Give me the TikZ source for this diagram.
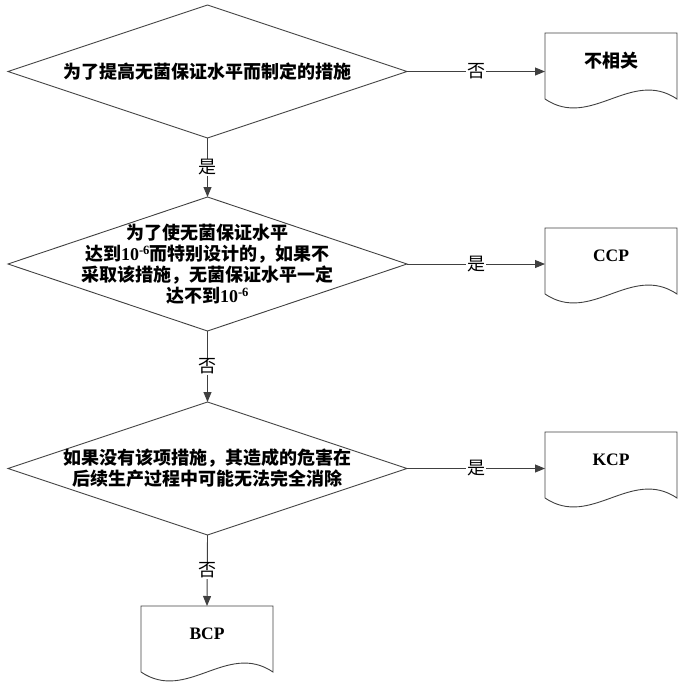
\documentclass[tikz,border=0pt]{standalone}
\usepackage{fontspec}
\setmainfont{Liberation Serif}
\newfontfamily\cjk{Noto Sans CJK SC}
\usetikzlibrary{shapes.geometric,arrows.meta}

\newcommand\tenmsix{{\rmfamily\bfseries 10\textsuperscript{-6}}}
% document symbol: flat top, wavy bottom
\newcommand\docoutline[1]{\draw[line] (#1.south west) -- (#1.north west) -- (#1.north east) -- (#1.south east) .. controls +(-46,-31) and +(46,31) .. (#1.south west);}

\tikzset{
	line/.style = {draw = black!75, line width = 0.9pt},
	decision/.style = {diamond, line, minimum width = 399pt, minimum height = 133pt, inner sep = 0pt, outer sep = 0pt},
	decisiontext/.style = {align = center, font = \cjk\bfseries\fontsize{18}{21}\selectfont, inner sep = 0pt},
	docbox/.style = {rectangle, minimum width = 132pt, minimum height = 66pt, inner sep = 0pt, outer sep = 0pt},
	doctext/.style = {font = \bfseries\fontsize{17.5}{19}\selectfont, inner sep = 0pt},
	answer/.style = {fill = white, inner sep = 1pt, font = \cjk\fontsize{18}{20}\selectfont},
	flow/.style = {line, -{Triangle[length = 10pt, width = 8pt]}}
}

\begin{document}
\begin{tikzpicture}[x = 1pt, y = -1pt]
	\useasboundingbox (0, 0) rectangle (686, 689);

	\node [decision] (d1) at (207.5, 71.5) {};
	\node [decision, minimum height = 134pt] (d2) at (207.5, 264) {};
	\node [decision] (d3) at (207.5, 468.5) {};
	\node [decisiontext] (t1) at (d1) {为了提高无菌保证水平而制定的措施};
	\node [decisiontext] (t2) at (d2) {为了使无菌保证水平\\达到\tenmsix 而特别设计的，如果不\\采取该措施，无菌保证水平一定\\达不到\tenmsix};
	\node [decisiontext] (t3) at (d3) {如果没有该项措施，其造成的危害在\\后续生产过程中可能无法完全消除};

	\node [docbox] (buxg) at (611, 66) {};
	\node [docbox] (ccp) at (611, 261) {};
	\node [docbox] (kcp) at (611, 465) {};
	\node [docbox] (bcp) at (207, 639) {};
	\docoutline{buxg}
	\docoutline{ccp}
	\docoutline{kcp}
	\docoutline{bcp}
	\node [doctext, font = \cjk\bfseries\fontsize{18}{20}\selectfont] at ([yshift = 5pt] buxg.center) {不相关};
	\node [doctext] at ([yshift = 5pt] ccp.center) {CCP};
	\node [doctext] at ([yshift = 5pt] kcp.center) {KCP};
	\node [doctext] at ([yshift = 5pt] bcp.center) {BCP};

	\draw [flow] (d1.east) -- node [answer] {否} (d1.east -| buxg.west);
	\draw [flow] (d2.east) -- node [answer] {是} (d2.east -| ccp.west);
	\draw [flow] (d3.east) -- node [answer] {是} (d3.east -| kcp.west);
	\draw [flow] (d1.south) -- node [answer] {是} (d2.north);
	\draw [flow] (d2.south) -- node [answer] {否} (d3.north);
	\draw [flow] (d3.south) -- node [answer] {否} (bcp.north);
\end{tikzpicture}
\end{document}
